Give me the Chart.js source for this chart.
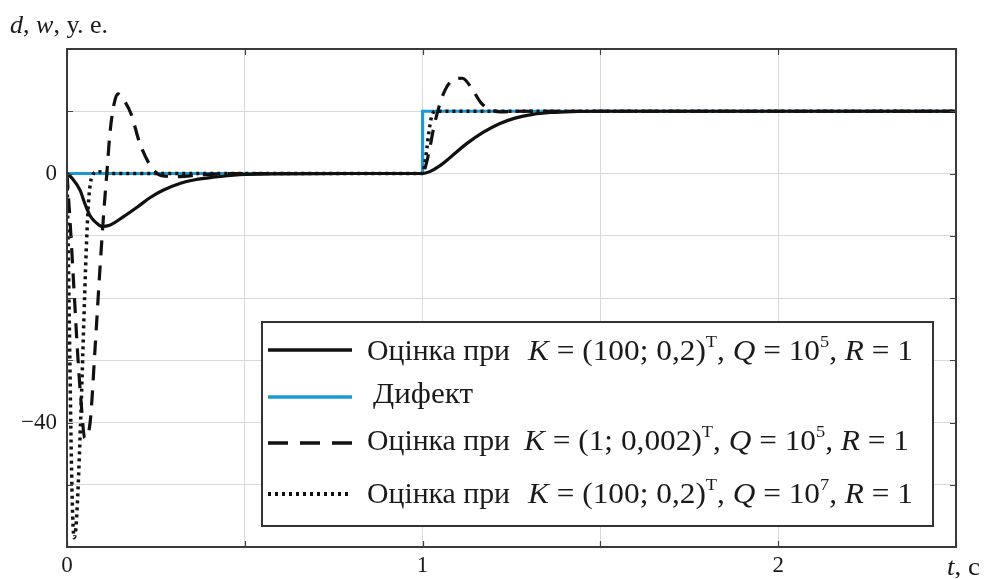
<!DOCTYPE html>
<html><head><meta charset="utf-8">
<script src="https://cdn.jsdelivr.net/npm/chart.js@4.4.0/dist/chart.umd.min.js"></script>
<style>html,body{margin:0;padding:0;background:#fff;}</style>
</head><body>
<canvas id="c" width="984" height="579"></canvas>
<script>
// ---- data ----
const stepT = [0, 1, 1, 2.5];
const stepV = [0, 0, 10, 10];

const solidT = [0, 0.015, 0.037, 0.05, 0.065, 0.08, 0.098, 0.12, 0.157, 0.2, 0.233, 0.27, 0.317, 0.36, 0.41, 0.486, 0.6, 0.8, 1.0,
                1.02, 1.05, 1.08, 1.124, 1.17, 1.216, 1.26, 1.31, 1.36, 1.42, 1.5, 2.5];
const solidV = [0, -0.8, -2.7, -4.8, -6.8, -7.8, -8.5, -8.3, -7.0, -5.3, -3.9, -2.7, -1.6, -1.0, -0.6, -0.2, -0.05, 0, 0,
                0.3, 1.3, 2.7, 4.8, 6.6, 8.0, 8.9, 9.5, 9.8, 9.95, 10, 10];

const dashT = [0, 0.01, 0.02, 0.03, 0.04, 0.05, 0.065, 0.079, 0.093, 0.105, 0.112, 0.12, 0.13, 0.143, 0.16, 0.18, 0.205, 0.24, 0.27, 0.31, 0.38, 0.5, 1.0,
               1.01, 1.02, 1.03, 1.045, 1.06, 1.08, 1.112, 1.14, 1.165, 1.19, 1.22, 1.26, 1.3, 2.5];
const dashV = [0, -9, -19, -29, -37, -42.5, -40, -28, -15, -5, 0, 6, 10.5, 12.8, 11.8, 9.6, 4.8, 0.8, -0.4, -0.5, -0.2, 0, 0,
               1.5, 4, 7, 10.5, 13, 14.8, 15.3, 13.5, 11.3, 10.3, 9.9, 10, 10, 10];

const dotT = [0, 0.004, 0.008, 0.012, 0.016, 0.02, 0.025, 0.03, 0.035, 0.04, 0.045, 0.05, 0.055, 0.06, 0.066, 0.075, 0.09, 0.12, 1.0,
              1.006, 1.012, 1.018, 1.024, 1.03, 1.04, 2.5];
const dotV = [0, -14, -30, -45, -55, -58.5, -57, -52, -45, -37, -28, -19, -11, -5, -1.5, 0, 0.3, 0, 0,
              1.5, 4, 6.8, 8.8, 9.8, 10, 10];

const xTickValues = [0, 1, 2];
const xTickLabels = ['0', '1', '2'];
const yTickValues = [0, -40];
const yTickLabels = ['0', '\u221240'];

const legendNames = ['Оцінка при', 'Дифект', 'Оцінка при', 'Оцінка при'];
const legendK = ['(100; 0,2)', null, '(1; 0,002)', '(100; 0,2)'];
const legendQexp = ['5', null, '5', '7'];

// ---- helpers ----
const pts = (t, v) => t.map((x, i) => ({x, y: v[i]}));
const FONT = '"Liberation Serif", "Times New Roman", serif';
const TXT = '#1a1a1a';

function drawRuns(ctx, runs, x, y, size, targetW) {
  const fontOf = r => `${r.i ? 'italic ' : ''}${r.s ? Math.round(size * 0.6) : size}px ${FONT}`;
  let w = 0;
  runs.forEach(r => { ctx.font = fontOf(r); r.w = ctx.measureText(r.t).width; w += r.w; });
  const sx = targetW ? targetW / w : 1;
  ctx.save();
  ctx.translate(x, y); ctx.scale(sx, 1);
  ctx.fillStyle = TXT; ctx.textBaseline = 'alphabetic'; ctx.textAlign = 'left';
  let cx = 0;
  runs.forEach(r => { ctx.font = fontOf(r); ctx.fillText(r.t, cx, r.s ? -size * 0.46 : 0); cx += r.w; });
  ctx.restore();
}

const styles = [
  {color: '#111', width: 3.2, dash: [], legDash: []},
  {color: '#1b9ad7', width: 3.2, dash: [], legDash: []},
  {color: '#111', width: 3.2, dash: [15, 10], legDash: [20, 12]},
  {color: '#111', width: 3.5, dash: [3, 4], legDash: [3, 4]},
];

const decor = {
  id: 'decor',
  afterDraw(chart) {
    const ctx = chart.ctx, a = chart.chartArea;
    const xs = chart.scales.x, ys = chart.scales.y;
    ctx.save();
    // inner tick marks
    ctx.strokeStyle = '#444'; ctx.lineWidth = 1.2;
    xs.ticks.forEach(t => {
      const px = Math.round(xs.getPixelForValue(t.value)) + 0.5;
      ctx.beginPath(); ctx.moveTo(px, a.bottom); ctx.lineTo(px, a.bottom - 6);
      ctx.moveTo(px, a.top); ctx.lineTo(px, a.top + 6); ctx.stroke();
    });
    ys.ticks.forEach(t => {
      const py = Math.round(ys.getPixelForValue(t.value)) + 0.5;
      ctx.beginPath(); ctx.moveTo(a.left, py); ctx.lineTo(a.left + 6, py);
      ctx.moveTo(a.right, py); ctx.lineTo(a.right - 6, py); ctx.stroke();
    });
    // frame
    ctx.strokeStyle = '#3a3a3a'; ctx.lineWidth = 2;
    ctx.strokeRect(a.left, a.top, a.right - a.left, a.bottom - a.top);
    // axis titles
    drawRuns(ctx, [{t: 'd', i: 1}, {t: ', '}, {t: 'w', i: 1}, {t: ', у. е.'}], 10, 33, 25, 98);
    drawRuns(ctx, [{t: 't', i: 1}, {t: ', с'}], xs.getPixelForValue(2.5) - 9, 575, 25, 33);
    // legend box
    const L = {x: 262, y: 322, w: 671, h: 204};
    ctx.fillStyle = '#fff'; ctx.fillRect(L.x, L.y, L.w, L.h);
    ctx.strokeStyle = '#333'; ctx.lineWidth = 2; ctx.strokeRect(L.x, L.y, L.w, L.h);
    const lineY = [350, 397, 443, 494];
    const baseY = [360, 403, 450, 503];
    const nameX = [367, 373, 367, 367];
    const kX = [528, 0, 524, 528];
    const endX = [913, 0, 909, 913];
    for (let i = 0; i < 4; i++) {
      const s = styles[i];
      ctx.save();
      ctx.strokeStyle = s.color; ctx.lineWidth = s.width + 0.5; ctx.setLineDash(s.legDash);
      ctx.beginPath(); ctx.moveTo(268, lineY[i]); ctx.lineTo(352, lineY[i]); ctx.stroke();
      ctx.restore();
      if (i === 1) {
        drawRuns(ctx, [{t: legendNames[i]}], nameX[i], baseY[i], 29, 100);
      } else {
        drawRuns(ctx, [{t: legendNames[i]}], nameX[i], baseY[i], 29, 143);
        const runs = [{t: 'K', i: 1}, {t: ' = ' + legendK[i]}, {t: 'T', s: 1}, {t: ', '}, {t: 'Q', i: 1},
                      {t: ' = 10'}, {t: legendQexp[i], s: 1}, {t: ', '}, {t: 'R', i: 1}, {t: ' = 1'}];
        drawRuns(ctx, runs, kX[i], baseY[i], 29, endX[i] - kX[i]);
      }
    }
    ctx.restore();
  }
};

const mk = (label, t, v, s, order) => ({
  label, data: pts(t, v), borderColor: s.color, borderWidth: s.width, borderDash: s.dash,
  pointRadius: 0, fill: false, cubicInterpolationMode: 'monotone', order, borderCapStyle: 'butt'
});

new Chart(document.getElementById('c'), {
  type: 'line',
  data: {
    datasets: [
      mk('solid', solidT, solidV, styles[0], 2),
      Object.assign(mk('step', stepT, stepV, styles[1], 4), {cubicInterpolationMode: 'default', tension: 0}),
      mk('dashed', dashT, dashV, styles[2], 1),
      mk('dotted', dotT, dotV, styles[3], 0),
    ]
  },
  options: {
    responsive: false, animation: false,
    layout: {padding: {left: 0, right: 28, top: 49, bottom: 0}},
    plugins: {legend: {display: false}, tooltip: {enabled: false}},
    scales: {
      x: {
        type: 'linear', min: 0, max: 2.5,
        ticks: {stepSize: 0.5, autoSkip: false, maxRotation: 0, padding: 5, color: TXT,
                font: {family: FONT, size: 23},
                callback: v => { const i = xTickValues.indexOf(v); return i >= 0 ? xTickLabels[i] : ''; }},
        grid: {color: '#d9d9d9', lineWidth: 1, drawTicks: false},
        border: {display: false},
        afterFit: s => { s.height = 32; }
      },
      y: {
        type: 'linear', min: -60, max: 20,
        ticks: {stepSize: 10, autoSkip: false, padding: 10, color: TXT,
                font: {family: FONT, size: 23},
                callback: v => { const i = yTickValues.indexOf(v); return i >= 0 ? yTickLabels[i] : ''; }},
        grid: {color: '#d9d9d9', lineWidth: 1, drawTicks: false},
        border: {display: false},
        afterFit: s => { s.width = 67; }
      }
    }
  },
  plugins: [decor]
});
</script>
</body></html>
